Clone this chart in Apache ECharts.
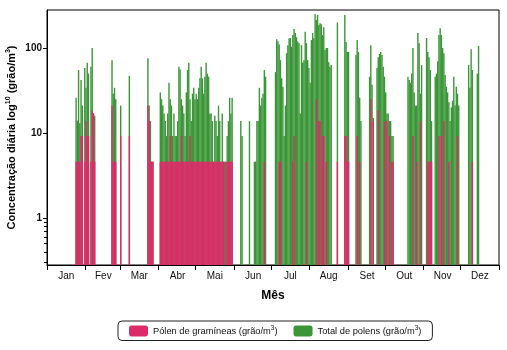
<!DOCTYPE html>
<html><head><meta charset="utf-8">
<script src="https://cdn.jsdelivr.net/npm/echarts@6/dist/echarts.min.js"></script>
<style>html,body{margin:0;padding:0;background:#fff}#c{width:507px;height:350px}</style>
</head><body><div id="c"></div>
<script>
const monthNames = ['Jan','Fev','Mar','Abr','Mai','Jun','Jul','Aug','Set','Out','Nov','Dez'];
const monthDays = [31,28,31,30,31,30,31,31,30,31,30,31];
const yTickValues = [1, 10, 100];
const yMinorTickValues = [0.3, 0.4, 0.5, 0.6, 0.7, 0.8, 0.9];
// day of year (0-based) with data
const days = [23,24,25,26,27,28,30,31,32,33,35,36,37,38,52,53,54,55,59,66,81,82,83,84,85,
91,92,93,94,95,96,97,98,99,100,101,102,103,104,105,106,107,108,109,110,111,112,113,114,115,116,117,118,119,
120,121,122,123,124,125,126,127,128,129,130,131,132,133,134,135,136,137,138,139,140,141,142,143,144,145,146,147,148,149,
156,157,163,167,168,169,170,171,172,173,174,175,176,
184,185,186,187,188,189,190,191,192,193,194,195,196,197,198,199,200,201,202,203,204,205,206,207,208,209,210,211,
212,213,214,215,216,217,218,219,220,221,222,223,224,225,226,227,228,229,234,240,241,242,
243,249,250,251,252,253,260,261,262,263,266,267,268,269,270,271,272,
273,274,275,276,277,278,279,291,292,293,294,295,296,297,298,299,300,301,302,
306,307,308,309,310,313,314,315,316,317,318,319,320,321,322,323,324,325,326,327,328,329,330,331,332,
340,341,342,343,347,348];
const totalPollen = [26,14,55,13,42,21,58,34,67,50,60,100,17,16,72,29,34,25,21,47,76,21,13.8,4.6,4.6,
30,25,21,17,13.8,9.2,17,39,25,21,9.2,17,9.2,9.2,13.8,60,56,25,21,17,9.2,30,55,67,25,13.8,29,34,25,
29,25,34,44,60,44,29,46,67,50,46,17,17,13.8,4.6,16,13.8,9.2,21,13.8,4.6,17,4.6,4.6,4.6,9.2,13.8,26,17,26,
13.8,9.2,13.8,4.6,4.6,13.8,13.8,34,21,26,29,55,46,
52,127,119,110,72,44,35,9.2,21,87,108,130,131,103,142,167,150,134,119,114,17,108,67,72,155,114,72,58,
39,124,150,130,250,214,245,186,196,190,142,176,95,100,100,68,60,63,200,245,118,90,
90,83,124,90,26,13.8,46,108,37,15,58,78,85,90,83,60,46,
30,17,17,13.8,13.8,9.2,9.2,46,42,39,50,100,30,21,21,150,114,29,63,
131,90,78,55,13.8,46,50,70,142,171,142,100,87,48,35,30,23,13.8,20,24,46,21,35,29,21,
63,34,97,55,50,106];
const grassPollen = [4.6,4.6,4.6,4.6,9.2,9.2,4.6,13.8,9.2,9.2,4.6,18.4,17,4.6,21,4.6,4.6,4.6,9.2,9.2,21,13.8,4.6,4.6,4.6,
4.6,4.6,4.6,4.6,4.6,4.6,4.6,4.6,9.2,4.6,4.6,4.6,4.6,4.6,4.6,4.6,4.6,9.2,4.6,4.6,4.6,4.6,4.6,4.6,9.2,4.6,4.6,4.6,4.6,
4.6,4.6,4.6,4.6,4.6,4.6,4.6,4.6,4.6,4.6,4.6,4.6,4.6,4.6,4.6,4.6,4.6,4.6,4.6,4.6,4.6,4.6,4.6,null,4.6,4.6,4.6,4.6,4.6,4.6,
null,null,null,null,null,null,null,null,null,null,null,4.6,null,
null,null,null,4.6,4.6,null,null,null,null,null,null,null,null,null,4.6,9.2,null,null,null,null,null,null,null,null,null,4.6,null,null,
null,null,null,null,null,25,null,13.8,13.8,null,9.2,9.2,null,4.6,null,null,null,null,4.6,9.2,9.2,4.6,
4.6,null,9.2,null,4.6,null,null,25,null,13.8,null,18.4,null,null,null,null,13.8,
null,13.8,null,9.2,null,4.6,4.6,null,null,null,null,9.2,null,null,4.6,null,null,13.8,null,
null,4.6,4.6,4.6,4.6,null,null,null,9.2,null,9.2,null,13.8,null,null,null,4.6,null,null,null,null,null,null,9.2,null,
null,null,null,4.6,null,null];

const grassName = 'Pólen de gramíneas (grão/m3)';
const totalName = 'Total de polens (grão/m3)';

const nDays = monthDays.reduce((a, b) => a + b, 0);
const monthStart = [];
monthDays.reduce((acc, n) => { monthStart.push(acc); return acc + n; }, 0);
const labelIdx = {};
monthStart.forEach((s, i) => { labelIdx[s + Math.floor(monthDays[i] / 2)] = monthNames[i]; });
const cats = [];
const totalFull = [];
const grassFull = [];
for (let i = 0; i < nDays; i++) { cats.push(String(i)); totalFull.push('-'); grassFull.push('-'); }
days.forEach((d, i) => {
  totalFull[d] = totalPollen[i];
  if (grassPollen[i] != null) grassFull[d] = grassPollen[i];
});
const Y_MIN = 0.28, Y_MAX = 280;

const FONT = 'Liberation Sans, Arial, Helvetica, sans-serif';
const chart = echarts.init(document.getElementById('c'), null, {renderer: 'canvas'});
chart.setOption({
  animation: false,
  textStyle: {fontFamily: FONT},
  color: ['#3b9638', '#dd2b69'],
  grid: {left: 47, right: 8, top: 10, bottom: 85, show: true, borderColor: '#000', borderWidth: 1,
         backgroundColor: 'transparent', containLabel: false, outerBoundsMode: 'none'},
  legend: {
    left: 118, top: 321,
    padding: [4, 11, 4, 11],
    itemWidth: 19, itemHeight: 11, itemGap: 16,
    borderColor: '#222', borderWidth: 1, borderRadius: 4,
    data: [grassName, totalName],
    formatter: function (name) {
      const base = name.slice(0, -2);
      return '{a|' + base + '}{s|3}{a|)}';
    },
    textStyle: {
      fontFamily: FONT, fontSize: 9.3, color: '#111',
      rich: {a: {fontFamily: FONT, fontSize: 9.3, color: '#111', lineHeight: 12},
             s: {fontFamily: FONT, fontSize: 6.5, color: '#111', verticalAlign: 'top', lineHeight: 12}}
    }
  },
  xAxis: {
    type: 'category', data: cats, boundaryGap: true,
    name: 'Mês', nameLocation: 'middle', nameGap: 25,
    nameTextStyle: {fontFamily: FONT, fontSize: 12, fontWeight: 'bold', color: '#000'},
    axisLine: {onZero: false, lineStyle: {color: '#000', width: 1}},
    axisTick: {show: true, length: 5, lineStyle: {color: '#000'},
      interval: function (idx) { return monthStart.indexOf(idx) >= 0; }},
    axisLabel: {
      interval: function (idx) { return labelIdx[idx] !== undefined; },
      formatter: function (v, idx) { return labelIdx[+v] || ''; },
      fontFamily: FONT, fontSize: 10, color: '#111', margin: 6
    },
    splitLine: {show: false}
  },
  yAxis: [{
    type: 'log', logBase: 10, min: Y_MIN, max: Y_MAX, startValue: Y_MIN,
    name: '{a|Concentração diária log}{s|10}{a| (grão/m}{s|3}{a|)}',
    nameLocation: 'middle', nameGap: 28, nameRotate: 90, nameMoveOverlap: false,
    nameTextStyle: {
      fontFamily: FONT, fontSize: 11, fontWeight: 'bold', color: '#000',
      rich: {a: {fontFamily: FONT, fontSize: 11, fontWeight: 'bold', color: '#000', lineHeight: 14},
             s: {fontFamily: FONT, fontSize: 7, fontWeight: 'bold', color: '#000', verticalAlign: 'top', lineHeight: 14}}
    },
    axisLine: {show: true, onZero: false, lineStyle: {color: '#000', width: 1}},
    axisTick: {show: true, length: 4, lineStyle: {color: '#000'}},
    axisLabel: {
      fontFamily: FONT, fontSize: 10, fontWeight: 'bold', color: '#111', margin: 5,
      showMinLabel: false, showMaxLabel: false,
      formatter: function (v) {
        const hit = yTickValues.find(t => Math.abs(t - v) / t < 1e-6);
        return hit !== undefined ? String(hit) : '';
      }
    },
    splitLine: {show: false}
  }, {
    type: 'value', position: 'left', min: Math.log10(Y_MIN), max: Math.log10(Y_MAX),
    axisLine: {show: false, onZero: false},
    axisLabel: {show: false},
    splitLine: {show: false},
    axisTick: {show: true, length: 3, lineStyle: {color: '#000'},
      customValues: yMinorTickValues.map(v => Math.log10(v))}
  }],
  series: [
    {name: totalName, type: 'bar', data: totalFull, barWidth: 1.4, barGap: '-100%',
     itemStyle: {color: '#3b9638'}},
    {name: grassName, type: 'bar', data: grassFull, barWidth: 1.4, barGap: '-100%',
     itemStyle: {color: '#dd2b69'}}
  ]
});
</script>
</body></html>
